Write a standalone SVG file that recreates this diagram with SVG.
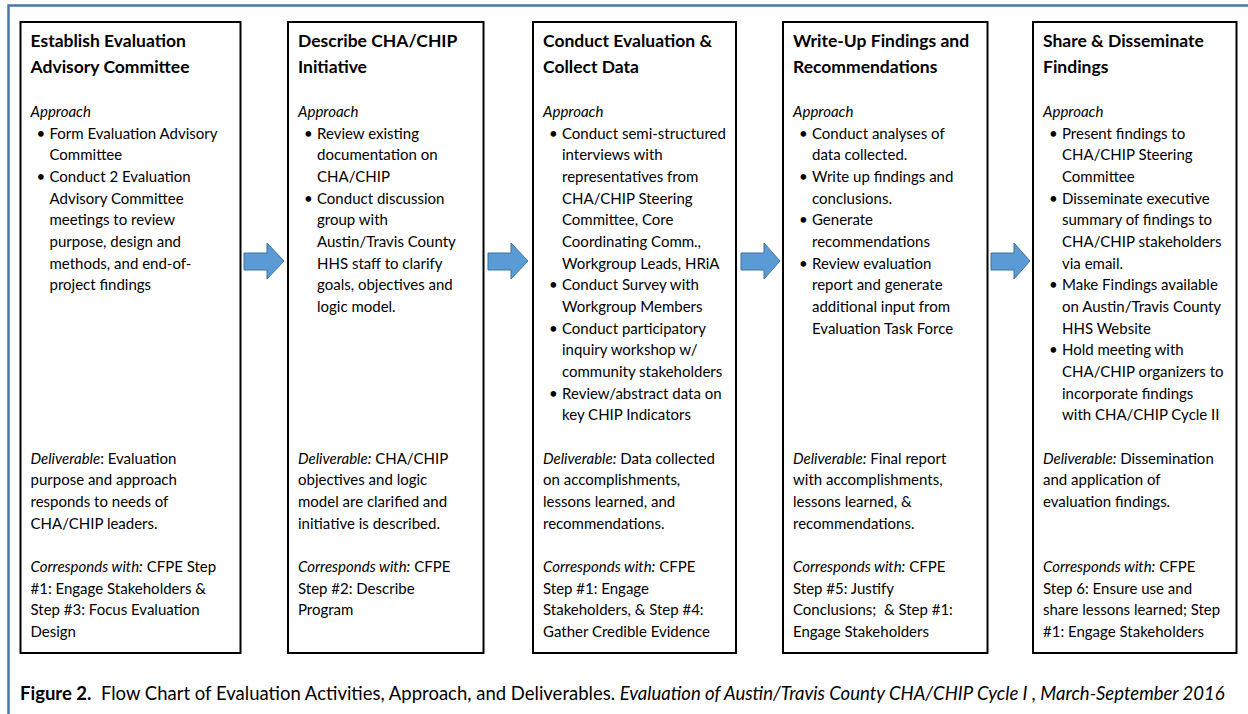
<svg xmlns="http://www.w3.org/2000/svg" width="1248" height="714" viewBox="0 0 1248 714">
<defs>
<style>
text{font-family:Lato,"Open Sans","Liberation Sans",sans-serif;fill:#000;white-space:pre}
.t{font-size:17.5px;font-weight:bold}
.b{font-size:15px}
.i{font-style:italic}
.box{fill:#fff;stroke:#000;stroke-width:2}
.arr{fill:#5B9BD5;stroke:#41719C;stroke-width:1}
.cap{font-size:18.5px}
</style>
</defs>
<rect x="0" y="0" width="1248" height="714" fill="#fff"/>
<rect x="8.5" y="5.5" width="1300" height="800" fill="none" stroke="#4A76A8" stroke-width="2.5"/>

<g id="n1">
<rect class="box" x="20.5" y="22" width="220" height="631"/>
<text class="t" x="30.5"><tspan x="30.5" y="47">Establish Evaluation</tspan><tspan x="30.5" y="73">Advisory Committee</tspan></text>
<text class="b" x="30.5"><tspan class="i" x="30.5" y="117">Approach</tspan><tspan x="36.5" y="138.7">•</tspan><tspan x="49.5" y="138.7">Form Evaluation Advisory</tspan><tspan x="49.5" y="160.3">Committee</tspan><tspan x="36.5" y="182">•</tspan><tspan x="49.5" y="182">Conduct 2 Evaluation</tspan><tspan x="49.5" y="203.7">Advisory Committee</tspan><tspan x="49.5" y="225.3">meetings to review</tspan><tspan x="49.5" y="247">purpose, design and</tspan><tspan x="49.5" y="268.7">methods, and end-of-</tspan><tspan x="49.5" y="290.3">project findings</tspan></text>
<text class="b"><tspan x="30.5" y="463.7" class="i">Deliverable</tspan><tspan>: Evaluation</tspan><tspan x="30.5" y="485.3">purpose and approach</tspan><tspan x="30.5" y="507">responds to needs of</tspan><tspan x="30.5" y="528.7">CHA/CHIP leaders.</tspan></text>
<text class="b"><tspan x="30.5" y="572" class="i">Corresponds with:</tspan><tspan> CFPE Step</tspan><tspan x="30.5" y="593.7">#1: Engage Stakeholders &amp;</tspan><tspan x="30.5" y="615.3">Step #3: Focus Evaluation</tspan><tspan x="30.5" y="637">Design</tspan></text>
</g>

<g id="n2">
<rect class="box" x="288" y="22" width="195.5" height="631"/>
<text class="t"><tspan x="298" y="47">Describe CHA/CHIP</tspan><tspan x="298" y="73">Initiative</tspan></text>
<text class="b"><tspan class="i" x="298" y="117">Approach</tspan><tspan x="304" y="138.7">•</tspan><tspan x="317" y="138.7">Review existing</tspan><tspan x="317" y="160.3">documentation on</tspan><tspan x="317" y="182">CHA/CHIP</tspan><tspan x="304" y="203.7">•</tspan><tspan x="317" y="203.7">Conduct discussion</tspan><tspan x="317" y="225.3">group with</tspan><tspan x="317" y="247">Austin/Travis County</tspan><tspan x="317" y="268.7">HHS staff to clarify</tspan><tspan x="317" y="290.3">goals, objectives and</tspan><tspan x="317" y="312">logic model.</tspan></text>
<text class="b"><tspan x="298" y="463.7" class="i">Deliverable:</tspan><tspan> CHA/CHIP</tspan><tspan x="298" y="485.3">objectives and logic</tspan><tspan x="298" y="507">model are clarified and</tspan><tspan x="298" y="528.7">initiative is described.</tspan></text>
<text class="b"><tspan x="298" y="572" class="i">Corresponds with:</tspan><tspan> CFPE</tspan><tspan x="298" y="593.7">Step #2: Describe</tspan><tspan x="298" y="615.3">Program</tspan></text>
</g>

<g id="n3">
<rect class="box" x="533" y="22" width="203" height="631"/>
<text class="t"><tspan x="543" y="47">Conduct Evaluation &amp;</tspan><tspan x="543" y="73">Collect Data</tspan></text>
<text class="b"><tspan class="i" x="543" y="117">Approach</tspan><tspan x="549" y="138.7">•</tspan><tspan x="562" y="138.7">Conduct semi-structured</tspan><tspan x="562" y="160.3">interviews with</tspan><tspan x="562" y="182">representatives from</tspan><tspan x="562" y="203.7">CHA/CHIP Steering</tspan><tspan x="562" y="225.3">Committee, Core</tspan><tspan x="562" y="247">Coordinating Comm.,</tspan><tspan x="562" y="268.7">Workgroup Leads, HRiA</tspan><tspan x="549" y="290.3">•</tspan><tspan x="562" y="290.3">Conduct Survey with</tspan><tspan x="562" y="312">Workgroup Members</tspan><tspan x="549" y="333.7">•</tspan><tspan x="562" y="333.7">Conduct participatory</tspan><tspan x="562" y="355.3">inquiry workshop w/</tspan><tspan x="562" y="377">community stakeholders</tspan><tspan x="549" y="398.7">•</tspan><tspan x="562" y="398.7">Review/abstract data on</tspan><tspan x="562" y="420.3">key CHIP Indicators</tspan></text>
<text class="b"><tspan x="543" y="463.7" class="i">Deliverable:</tspan><tspan> Data collected</tspan><tspan x="543" y="485.3">on accomplishments,</tspan><tspan x="543" y="507">lessons learned, and</tspan><tspan x="543" y="528.7">recommendations.</tspan></text>
<text class="b"><tspan x="543" y="572" class="i">Corresponds with:</tspan><tspan> CFPE</tspan><tspan x="543" y="593.7">Step #1: Engage</tspan><tspan x="543" y="615.3">Stakeholders, &amp; Step #4:</tspan><tspan x="543" y="637">Gather Credible Evidence</tspan></text>
</g>

<g id="n4">
<rect class="box" x="783" y="22" width="204.5" height="631"/>
<text class="t"><tspan x="793" y="47">Write-Up Findings and</tspan><tspan x="793" y="73">Recommendations</tspan></text>
<text class="b"><tspan class="i" x="793" y="117">Approach</tspan><tspan x="799" y="138.7">•</tspan><tspan x="812" y="138.7">Conduct analyses of</tspan><tspan x="812" y="160.3">data collected.</tspan><tspan x="799" y="182">•</tspan><tspan x="812" y="182">Write up findings and</tspan><tspan x="812" y="203.7">conclusions.</tspan><tspan x="799" y="225.3">•</tspan><tspan x="812" y="225.3">Generate</tspan><tspan x="812" y="247">recommendations</tspan><tspan x="799" y="268.7">•</tspan><tspan x="812" y="268.7">Review evaluation</tspan><tspan x="812" y="290.3">report and generate</tspan><tspan x="812" y="312">additional input from</tspan><tspan x="812" y="333.7">Evaluation Task Force</tspan></text>
<text class="b"><tspan x="793" y="463.7" class="i">Deliverable:</tspan><tspan> Final report</tspan><tspan x="793" y="485.3">with accomplishments,</tspan><tspan x="793" y="507">lessons learned, &amp;</tspan><tspan x="793" y="528.7">recommendations.</tspan></text>
<text class="b"><tspan x="793" y="572" class="i">Corresponds with:</tspan><tspan> CFPE</tspan><tspan x="793" y="593.7">Step #5: Justify</tspan><tspan x="793" y="615.3">Conclusions;  &amp; Step #1:</tspan><tspan x="793" y="637">Engage Stakeholders</tspan></text>
</g>

<g id="n5">
<rect class="box" x="1033" y="22" width="203.5" height="631"/>
<text class="t"><tspan x="1043" y="47">Share &amp; Disseminate</tspan><tspan x="1043" y="73">Findings</tspan></text>
<text class="b"><tspan class="i" x="1043" y="117">Approach</tspan><tspan x="1049" y="138.7">•</tspan><tspan x="1062" y="138.7">Present findings to</tspan><tspan x="1062" y="160.3">CHA/CHIP Steering</tspan><tspan x="1062" y="182">Committee</tspan><tspan x="1049" y="203.7">•</tspan><tspan x="1062" y="203.7">Disseminate executive</tspan><tspan x="1062" y="225.3">summary of findings to</tspan><tspan x="1062" y="247">CHA/CHIP stakeholders</tspan><tspan x="1062" y="268.7">via email.</tspan><tspan x="1049" y="290.3">•</tspan><tspan x="1062" y="290.3">Make Findings available</tspan><tspan x="1062" y="312">on Austin/Travis County</tspan><tspan x="1062" y="333.7">HHS Website</tspan><tspan x="1049" y="355.3">•</tspan><tspan x="1062" y="355.3">Hold meeting with</tspan><tspan x="1062" y="377">CHA/CHIP organizers to</tspan><tspan x="1062" y="398.7">incorporate findings</tspan><tspan x="1062" y="420.3">with CHA/CHIP Cycle II</tspan></text>
<text class="b"><tspan x="1043" y="463.7" class="i">Deliverable:</tspan><tspan> Dissemination</tspan><tspan x="1043" y="485.3">and application of</tspan><tspan x="1043" y="507">evaluation findings.</tspan></text>
<text class="b"><tspan x="1043" y="572" class="i">Corresponds with:</tspan><tspan> CFPE</tspan><tspan x="1043" y="593.7">Step 6: Ensure use and</tspan><tspan x="1043" y="615.3">share lessons learned; Step</tspan><tspan x="1043" y="637">#1: Engage Stakeholders</tspan></text>
</g>

<g id="connectors">
<polygon class="arr" points="244,253 267,253 267,243 284,261 267,279 267,270 244,270"/>
<polygon class="arr" points="488,253 511,253 511,243 528,261 511,279 511,270 488,270"/>
<polygon class="arr" points="741,253 764,253 764,243 780,261 764,279 764,270 741,270"/>
<polygon class="arr" points="991,253 1014,253 1014,243 1030,261 1014,279 1014,270 991,270"/>
</g>

<text class="cap" x="20" y="700"><tspan font-weight="bold">Figure 2.</tspan><tspan>  Flow Chart of Evaluation Activities, Approach, and Deliverables. </tspan><tspan class="i">Evaluation of Austin/Travis County CHA/CHIP Cycle I , March-September 2016</tspan></text>
</svg>
